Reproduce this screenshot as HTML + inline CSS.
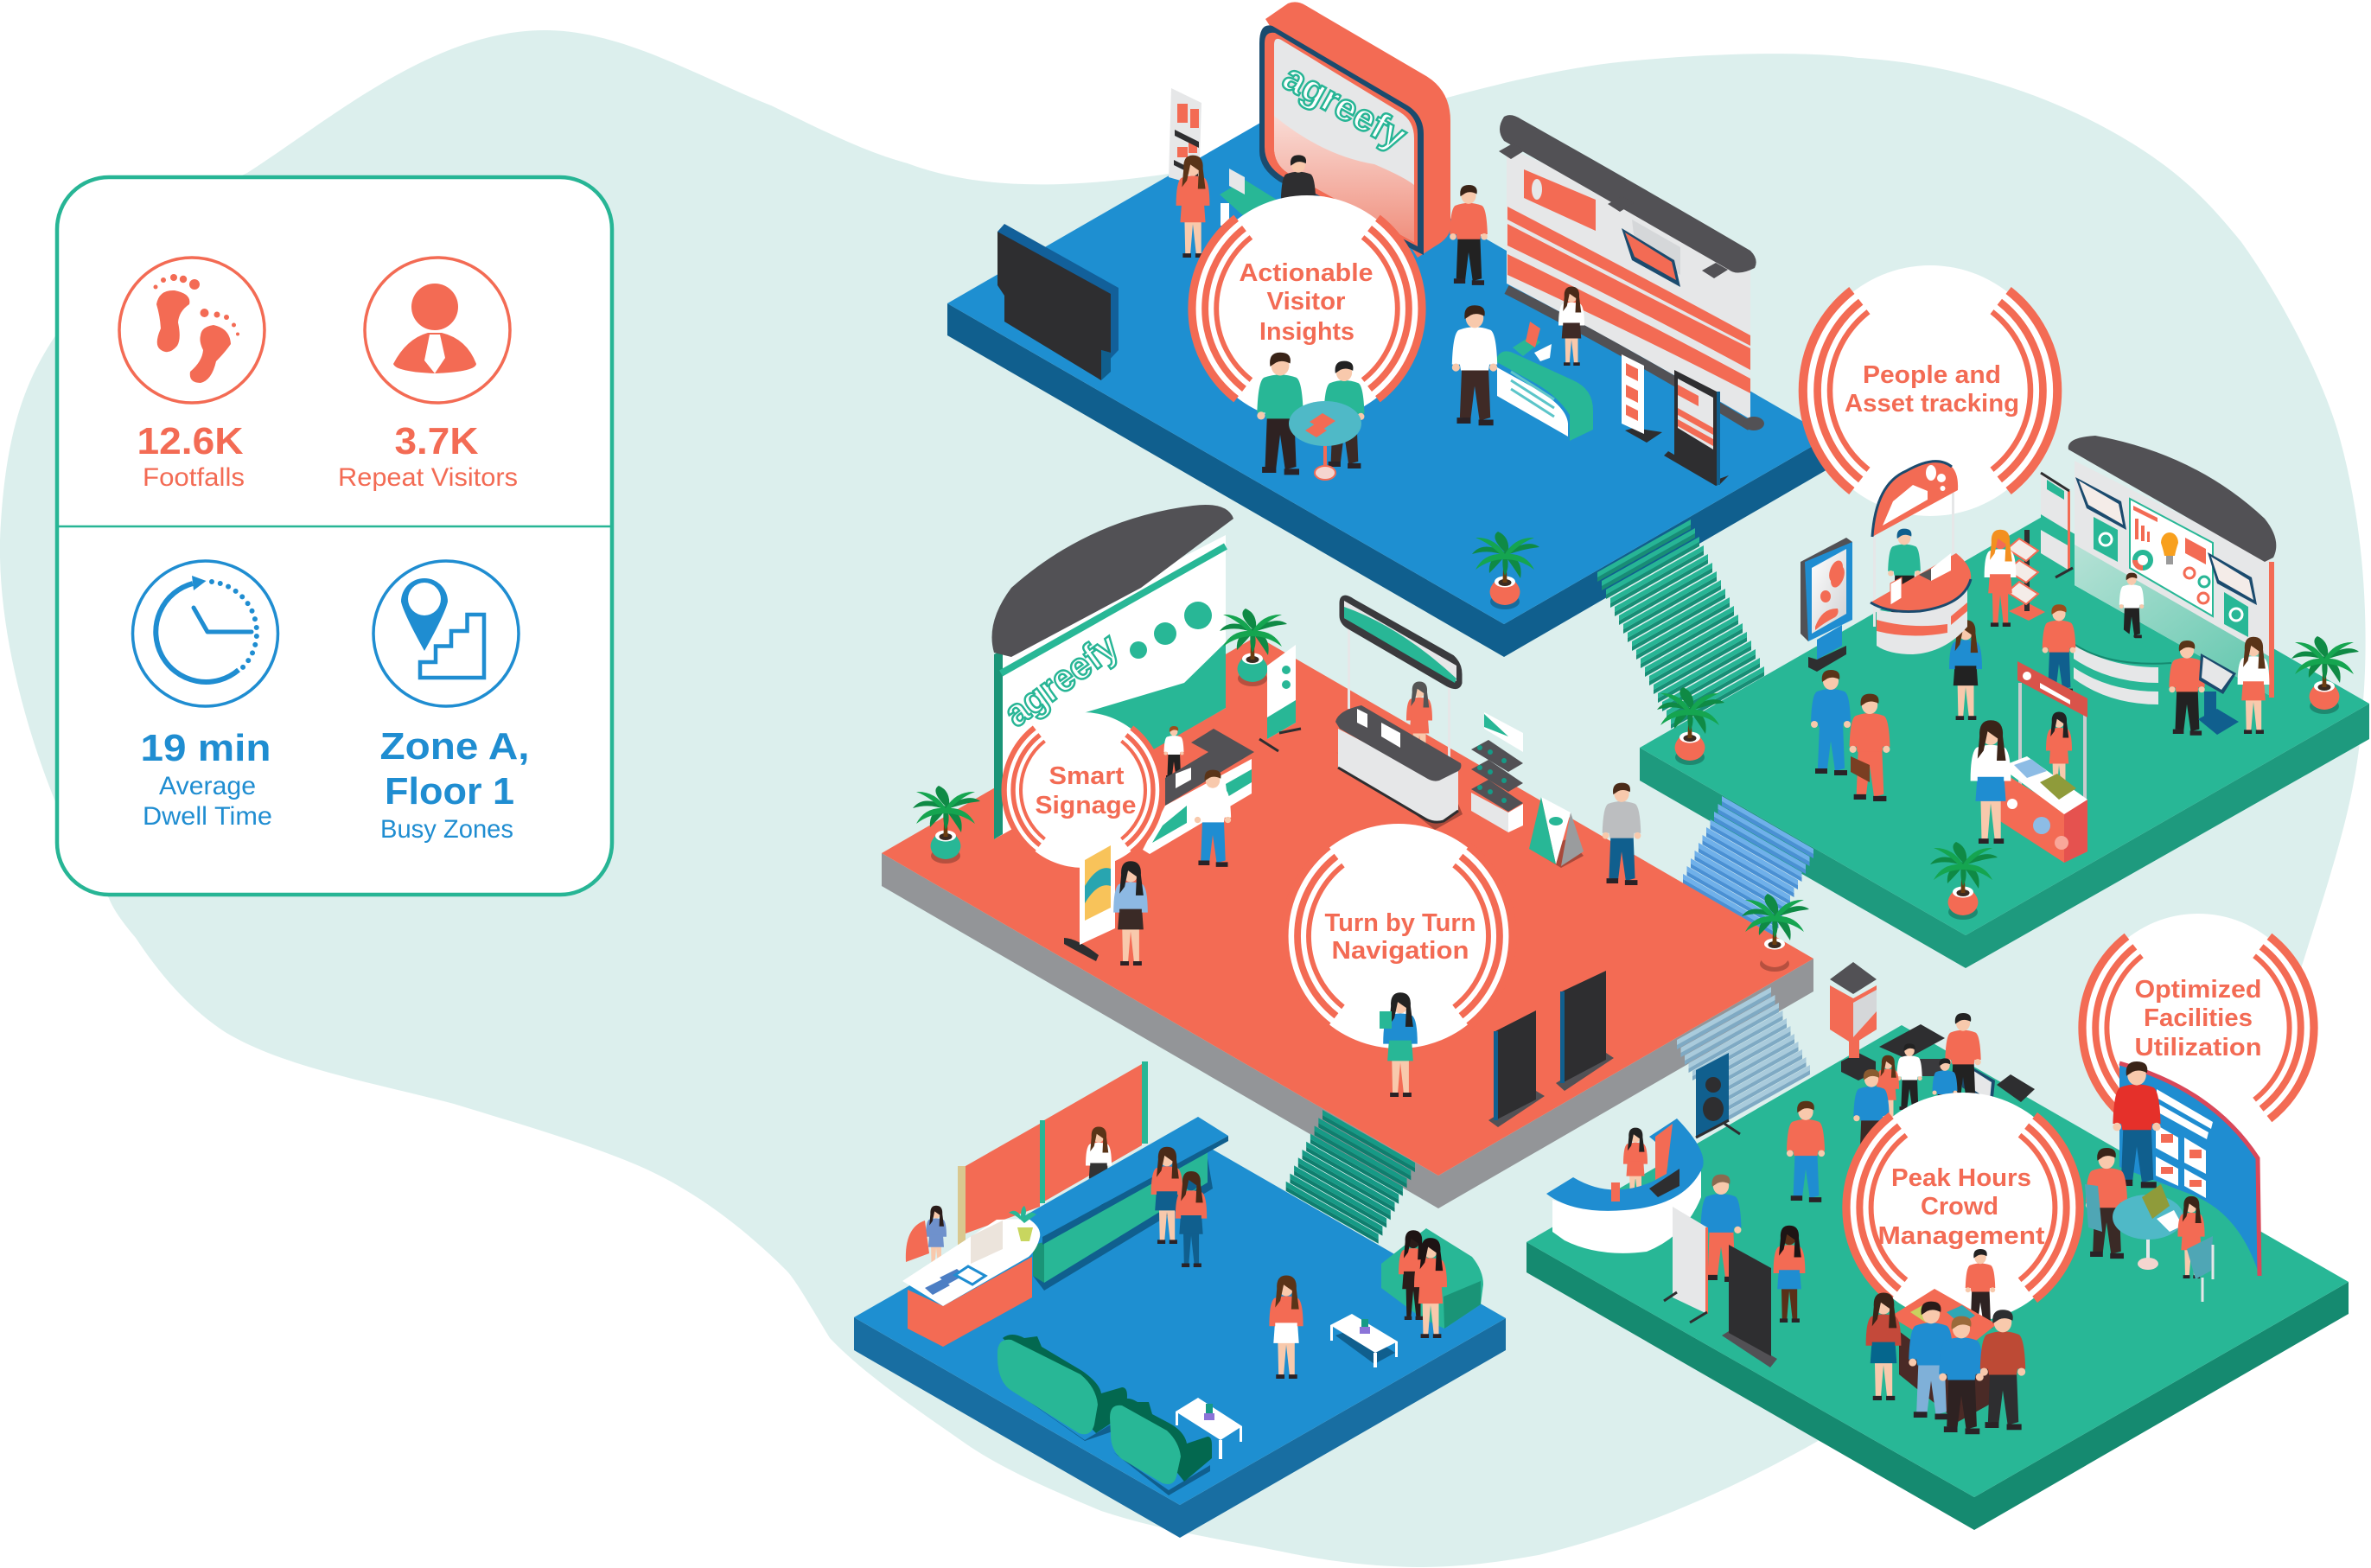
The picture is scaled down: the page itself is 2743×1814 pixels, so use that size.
<!DOCTYPE html>
<html><head><meta charset="utf-8"><title>Indoor analytics floors</title>
<style>
html,body{margin:0;padding:0;background:#fff}
svg{display:block}
.t{fill:var(--t,#f36b54)}.b{fill:var(--b,#222)}.h{fill:var(--h,#3a2418)}.s{fill:var(--s,#f8c9ac)}.p{fill:var(--p,#f36b54)}
text{font-family:"Liberation Sans",sans-serif}
.c{fill:#f36b54;font-weight:bold;text-anchor:middle;font-size:29px}
.big{font-weight:bold;font-size:44px;text-anchor:middle}
.sm{font-size:30px;text-anchor:middle}
</style></head><body>
<svg xmlns="http://www.w3.org/2000/svg" width="2743" height="1814" viewBox="0 0 2743 1814">
<defs>
<g id="m">
<path class="b" d="M-13,-58 L-15,-6 L-4,-5 L0,-38 L5,-3 L16,-6 L14,-58Z"/>
<path fill="#2a2226" d="M-18,-6 h14 v6 h-14z M4,-4 h15 v6 h-15z"/>
<path class="t" d="M-16,-95 Q0,-101 16,-95 Q22,-92 23,-60 L15,-60 L14,-54 L-14,-54 L-15,-60 L-23,-60 Q-22,-92 -16,-95Z"/>
<circle class="s" cx="-19" cy="-57" r="4"/><circle class="s" cx="19" cy="-57" r="4"/>
<ellipse class="s" cx="0" cy="-107" rx="9" ry="10"/>
<path class="h" d="M-10,-106 Q-12,-120 0,-120 Q12,-120 10,-109 Q2,-113 -4,-110 Z"/>
</g>
<g id="w">
<path class="s" d="M-10,-50 L-9,-4 L-3,-4 L0,-40 L4,-4 L10,-4 L10,-50Z"/>
<path fill="#2a2226" d="M-12,-5 h10 v5 h-10z M3,-5 h10 v5 h-10z"/>
<path class="b" d="M-13,-70 L-15,-42 L15,-42 L13,-70Z"/>
<path class="t" d="M-14,-95 Q0,-100 14,-95 Q20,-90 20,-62 L13,-62 L13,-66 L-13,-66 L-13,-62 L-20,-62 Q-20,-90 -14,-95Z"/>
<ellipse class="s" cx="0" cy="-107" rx="8.5" ry="9.5"/>
<path class="h" d="M-11,-106 Q-12,-122 0,-122 Q13,-122 12,-106 L15,-82 L6,-82 L7,-104 L-3,-111 L-7,-92 L-13,-84Z"/>
</g>
<g id="plant">
<ellipse cx="0" cy="-5" rx="17" ry="9" fill="#000" opacity=".25"/>
<path class="p" d="M-12,-28 Q-19,-20 -17,-13 Q-14,-2 0,-1 Q14,-2 17,-13 Q19,-20 12,-28Z"/>
<ellipse cx="0" cy="-28" rx="12" ry="6.5" fill="#fff"/><ellipse cx="0" cy="-27" rx="7.5" ry="4" fill="#3b2a20"/>
<path fill="#6b3d10" d="M-2.5,-27 L2.5,-27 L1.5,-62 L-1.5,-62Z"/>
<path fill="#0f8a45" d="M0,-62 Q-26,-76 -38,-60 Q-18,-66 0,-58Z M0,-62 Q28,-78 40,-68 Q20,-66 0,-58Z M0,-62 Q-18,-80 -8,-86 Q6,-80 4,-62Z M0,-60 Q-20,-58 -18,-38 Q-6,-50 0,-58Z M0,-60 Q22,-56 18,-32 Q8,-48 0,-58Z M-2,-60 Q-4,-45 0,-35 Q6,-45 2,-60Z"/>
<path fill="#15a550" d="M0,-60 Q-24,-62 -34,-42 Q-18,-54 0,-54Z M0,-60 Q24,-62 34,-42 Q18,-54 0,-54Z M0,-60 Q-12,-80 -34,-79 Q-16,-72 -2,-56Z M0,-60 Q12,-80 34,-79 Q16,-72 2,-56Z"/>
</g>
<g id="rings" fill="none" stroke="#f36b54">
<circle cx="0" cy="0" r="100" fill="#fff" stroke="none"/>
<path stroke-width="7" d="M-62.5,-80 A101.5,101.5 0 0 0 -62.5,80 M62.5,-80 A101.5,101.5 0 0 1 62.5,80"/>
<path stroke-width="6" d="M-55.4,-70.9 A90,90 0 0 0 -55.4,70.9 M55.4,-70.9 A90,90 0 0 1 55.4,70.9"/>
<path stroke-width="4.5" d="M-49.3,-63 A80,80 0 0 0 -49.3,63 M49.3,-63 A80,80 0 0 1 49.3,63"/>
</g>
<!-- stair 1 steps -->
<g id="a1"><polygon fill="#188d75" points="0,6 -108,67 -108,72 0,11"/><polygon fill="#27b595" points="0,0 -108,61 -108,67 0,6"/></g>
<g id="a2"><use href="#a1"/><use href="#a1" transform="translate(5,10)"/></g>
<g id="a4"><use href="#a2"/><use href="#a2" transform="translate(10,20)"/></g>
<g id="a8"><use href="#a4"/><use href="#a4" transform="translate(20,40)"/></g>
<!-- stair 2 -->
<g id="b1"><polygon fill="#4a90d4" points="0,6 106,67 106,72 0,11"/><polygon fill="#6fb0ea" points="0,0 106,61 106,67 0,6"/></g>
<g id="b2"><use href="#b1"/><use href="#b1" transform="translate(-4.5,9)"/></g>
<g id="b4"><use href="#b2"/><use href="#b2" transform="translate(-9,18)"/></g>
<!-- stair 3 -->
<g id="c1"><polygon fill="#7faac4" points="0,6 -109,67 -109,72 0,11"/><polygon fill="#a9cbdc" points="0,0 -109,61 -109,67 0,6"/></g>
<g id="c2"><use href="#c1"/><use href="#c1" transform="translate(4.5,9)"/></g>
<g id="c4"><use href="#c2"/><use href="#c2" transform="translate(9,18)"/></g>
<!-- stair 4 -->
<g id="d1"><polygon fill="#0f7e6e" points="0,6 107,67 107,72 0,11"/><polygon fill="#169a86" points="0,0 107,61 107,67 0,6"/></g>
<g id="d2"><use href="#d1"/><use href="#d1" transform="translate(-4.7,9.2)"/></g>
<g id="d4"><use href="#d2"/><use href="#d2" transform="translate(-9.4,18.4)"/></g>
<linearGradient id="pk" x1="0" y1="0" x2="0" y2="1"><stop offset="0" stop-color="#f9dcd6"/><stop offset="1" stop-color="#f08f7d"/></linearGradient>
<linearGradient id="gw" x1="0" y1="0" x2="1" y2="1"><stop offset="0" stop-color="#b6e2d6"/><stop offset="1" stop-color="#5cc5ab"/></linearGradient>
<linearGradient id="sc" x1="0" y1="0" x2="1" y2="1"><stop offset="0" stop-color="#fff"/><stop offset="1" stop-color="#cfd1d3"/></linearGradient>
</defs>

<rect width="2743" height="1814" fill="#fff"/>
<!-- blob -->
<path fill="#dcefed" d="M0,625 C5,500 30,440 63,390 C110,320 200,240 286,200 C380,140 500,35 630,35 C720,35 810,90 892,122 C960,155 1000,175 1050,189 C1120,215 1210,222 1352,201 C1450,185 1560,140 1678,112 C1760,90 1830,75 1892,70 C2000,60 2100,60 2150,67 C2240,72 2360,100 2467,166 C2530,205 2560,240 2593,280 C2650,360 2690,450 2704,497 C2740,620 2740,750 2733,822 C2728,920 2700,1000 2659,1130 C2620,1260 2500,1400 2400,1480 C2300,1560 2200,1620 2105,1666 C2010,1720 1900,1770 1780,1799 C1720,1810 1680,1813 1640,1813 C1580,1812 1530,1805 1483,1795 C1410,1780 1340,1770 1274,1748 C1220,1725 1160,1700 1117,1670 C1060,1630 1000,1590 960,1548 C940,1515 920,1480 910,1470 C850,1410 790,1370 735,1347 C670,1320 600,1300 525,1277 C430,1252 330,1235 262,1195 C215,1165 180,1120 157,1085 C140,1065 130,1050 126,1039 C100,1005 85,970 63,925 C25,830 -2,720 0,625 Z"/>

<!-- panel -->
<rect x="66" y="205" width="642" height="830" rx="60" fill="#fff" stroke="#27b595" stroke-width="4.5"/>
<line x1="66" y1="609" x2="708" y2="609" stroke="#27b595" stroke-width="2.5"/>
<g fill="none" stroke-width="3.5">
<circle cx="222" cy="382" r="84" stroke="#f36b54"/><circle cx="506" cy="382" r="84" stroke="#f36b54"/>
<circle cx="237.5" cy="733" r="84" stroke="#1f8dd1"/><circle cx="516" cy="733" r="84" stroke="#1f8dd1"/>
</g>
<g fill="#f36b54">
<path d="M181,352 Q184,335 202,336 Q222,340 219,352 Q207,360 206,373 Q210,392 205,400 Q195,412 185,404 Q178,398 186,380 Q185,365 181,352Z"/>
<circle cx="180" cy="332" r="2.5"/><circle cx="189" cy="324" r="3"/><circle cx="201" cy="321" r="4"/><circle cx="212" cy="323" r="4.2"/><circle cx="225" cy="329" r="6"/>
<path d="M232,388 Q233,378 247,376 Q266,380 267,398 Q260,408 250,418 Q245,440 232,443 Q218,443 220,430 Q234,418 235,405 Q230,395 232,388Z"/>
<circle cx="236.5" cy="362" r="5"/><circle cx="251" cy="364" r="3.5"/><circle cx="262" cy="367" r="3"/><circle cx="270.5" cy="376" r="2.5"/><circle cx="275" cy="386.5" r="2"/>
<circle cx="503" cy="355" r="27"/>
<path d="M455,421 Q470,392 495,385 L511,385 Q540,392 551,421 Q550,430 503,432 Q458,430 455,421Z"/>
</g>
<path fill="#fff" d="M497,387 L509,387 L515,414 L503,432 L491,417Z"/>
<g fill="none" stroke="#1f8dd1">
<path stroke-width="6" d="M276,775 A58,58 0 1 1 223,675"/>
<path stroke-width="6" stroke-linecap="round" stroke-dasharray="0 10" d="M245,673 A59,59 0 0 1 281,772"/>
<path stroke-width="5" stroke-linecap="round" stroke-linejoin="round" d="M224,703 L240,731 L291,731"/>
</g>
<path fill="#1f8dd1" d="M222,666 L238.5,672 L224,683Z"/>
<path fill="#1f8dd1" d="M464,696 A27,27 0 1 1 518,696 Q515,710 491,753 Q467,710 464,696 Z"/>
<circle cx="491" cy="693" r="19" fill="#fff"/>
<path fill="#fff" stroke="#1f8dd1" stroke-width="4.5" d="M486,766 L486,784 L560,784 L560,711 L540.5,711 L540.5,730 L522,730 L522,747.5 L504,747.5 L504,766Z"/>
<text x="220" y="525" class="big" fill="#f36b54" textLength="123" lengthAdjust="spacingAndGlyphs">12.6K</text>
<text x="224" y="562" class="sm" fill="#f36b54" textLength="118" lengthAdjust="spacingAndGlyphs">Footfalls</text>
<text x="505" y="525" class="big" fill="#f36b54" textLength="97" lengthAdjust="spacingAndGlyphs">3.7K</text>
<text x="495" y="562" class="sm" fill="#f36b54" textLength="208" lengthAdjust="spacingAndGlyphs">Repeat Visitors</text>
<text x="238" y="880" class="big" fill="#1f8dd1" textLength="151" lengthAdjust="spacingAndGlyphs">19 min</text>
<text x="240" y="919" class="sm" fill="#1f8dd1" textLength="112" lengthAdjust="spacingAndGlyphs">Average</text>
<text x="240" y="954" class="sm" fill="#1f8dd1" textLength="150" lengthAdjust="spacingAndGlyphs">Dwell Time</text>
<text x="526" y="878" class="big" fill="#1f8dd1" textLength="173" lengthAdjust="spacingAndGlyphs">Zone A,</text>
<text x="520" y="930" class="big" fill="#1f8dd1" textLength="150" lengthAdjust="spacingAndGlyphs">Floor 1</text>
<text x="517" y="969" class="sm" fill="#1f8dd1" textLength="154" lengthAdjust="spacingAndGlyphs">Busy Zones</text>

<!-- platforms + stairs -->
<polygon fill="#105f8e" points="1096,351 1096,388 1740,760 2116,542 2116,505 1740,722"/>
<polygon fill="#1e8fd1" points="1472,134 2116,505 1740,722 1096,351"/>
<g transform="translate(1956,601)"><use href="#a8"/><use href="#a8" transform="translate(40,80)"/><use href="#a2" transform="translate(80,160)"/></g>
<polygon fill="#1e9a7e" points="1897,865 1897,903 2274,1120 2741,855 2741,814 2274,1082"/>
<polygon fill="#28b796" points="2364,597 2741,814 2274,1082 1897,865"/>
<polygon fill="#186ea2" points="988,1524 988,1562 1365,1779 1742,1562 1742,1525 1365,1741"/>
<polygon fill="#1e8fd1" points="1365,1308 1742,1525 1365,1741 988,1524"/>
<polygon fill="#158a70" points="1766,1437 1766,1472 2284,1770 2717,1520 2717,1483 2284,1732"/>
<polygon fill="#28b796" points="2200,1186 2717,1483 2284,1732 1766,1437"/>
<g transform="translate(1992,921)"><use href="#b4"/><use href="#b4" transform="translate(-18,36)"/><use href="#b4" transform="translate(-36,72)"/></g>
<polygon fill="#939598" points="1020,987 1020,1025 1664,1398 2098,1147 2098,1109 1664,1360"/>
<polygon fill="#f36b54" points="1454,736 2098,1109 1664,1360 1020,987"/>
<g transform="translate(2049,1142)"><use href="#c4"/><use href="#c4" transform="translate(18,36)"/><use href="#c2" transform="translate(36,72)"/><use href="#c1" transform="translate(45,90)"/></g>
<g transform="translate(1530,1284)"><use href="#d4"/><use href="#d4" transform="translate(-18.8,36.8)"/><use href="#d2" transform="translate(-37.6,73.6)"/></g>

<!-- top booth -->
<polygon fill="#e6e7e8" points="1355,102 1390,119 1387,215 1352,205"/>
<path fill="#f36b54" d="M1362,120h12v22h-12z M1377,126h10v22h-10z M1362,170h12v12h-12z M1375,165h10v12h-10z"/>
<path fill="#2e2e30" d="M1359,150l28,14v7l-28,-14z M1358,185l28,14v6l-28,-14z"/>
<path fill="#f36b54" d="M1464,22 L1490,4 Q1500,0 1510,6 L1650,88 Q1678,105 1678,140 L1678,262 Q1678,275 1660,285 L1640,298 Z"/>
<path fill="#1b4b6e" d="M1457,50 Q1457,26 1472,30 L1625,120 Q1647,132 1647,155 L1647,295 L1480,210 Q1457,195 1457,175 Z"/>
<path fill="#f36b54" d="M1463,50 Q1463,36 1475,38 L1622,125 Q1640,135 1640,155 L1640,285 L1485,205 Q1463,192 1463,170Z"/>
<path fill="#e6e7e8" d="M1474,52 Q1474,42 1482,46 L1620,130 Q1636,140 1636,160 L1636,280 L1490,200 Q1474,190 1474,170Z"/>
<path fill="url(#pk)" d="M1474,134 Q1530,180 1590,190 Q1625,205 1636,214 L1636,280 L1490,200 Q1474,190 1474,170Z"/>
<text x="1555" y="138" transform="rotate(29 1555 125)" text-anchor="middle" font-size="44" font-weight="bold" fill="#fff" stroke="#27b595" stroke-width="2.5" textLength="155" lengthAdjust="spacingAndGlyphs">agreefy</text>
<path fill="#12609a" d="M1154,268 L1162,259 L1294,333 L1294,405 L1280,420 Z"/>
<path fill="#2e2e30" d="M1154,268 L1285,340 L1285,408 L1274,405 L1274,440 L1162,372 L1162,342 L1154,330 Z"/>
<path fill="#105f8e" d="M1274,405 L1285,408 L1285,430 L1274,440Z"/>
<polygon fill="#28b796" points="1411,225 1440,208 1485,236 1450,260"/>
<polygon fill="#e6e7e8" points="1422,195 1440,205 1440,225 1422,215"/>
<rect x="1412" y="235" width="10" height="26" fill="#fff"/>
<use href="#m" transform="translate(1502,285) scale(.88)" style="--t:#2e2e30;--b:#2e2e30;--h:#222"/>
<use href="#w" transform="translate(1380,298) scale(.97)" style="--t:#f36b54;--b:#f36b54;--h:#5a3418"/>
<!-- curved wall -->
<path fill="#e6e7e8" d="M1743,170 Q1880,230 2025,312 L2025,485 Q1880,400 1743,328 Z"/>
<path fill="none" stroke="#525155" stroke-width="11" d="M1743,335 Q1880,405 2025,493"/>
<ellipse cx="2029" cy="490" rx="12" ry="8" fill="#525155"/>
<path fill="#f36b54" d="M1744,239 Q1900,320 2025,388 L2025,400 Q1900,335 1744,254 Z M1744,259 Q1900,340 2025,403 L2025,428 Q1900,360 1744,284Z M1744,294 Q1900,370 2025,438 L2025,455 Q1900,390 1744,318Z"/>
<polygon fill="#f36b54" points="1763,196 1846,231 1846,267 1763,229"/>
<ellipse cx="1778" cy="219" rx="6" ry="12" fill="#e6e7e8"/>
<polygon fill="#d5d7d9" points="1888,254 1944,286 1944,318 1892,289"/>
<polygon fill="#1b4b6e" points="1876,264 1937,301 1944,332 1888,301"/>
<polygon fill="#f36b54" points="1880,269 1934,303 1939,324 1891,297"/>
<path fill="#525155" d="M1740,135 Q1748,130 1760,138 Q1892,212 2025,290 Q2035,300 2030,310 Q2010,320 2000,312 Q1870,237 1740,163 Q1730,150 1740,135 Z"/>
<path fill="#525155" d="M1734,175l16,-9l14,8l-16,10z M1860,236l16,-9l14,8l-16,10z M1969,313l16,-9l14,8l-16,10z"/>
<use href="#w" transform="translate(1818,423) scale(.75)" style="--t:#fff;--b:#3f2a26;--h:#4a2a18"/>
<path fill="#28b796" d="M1730,418 Q1735,402 1750,408 L1820,440 Q1843,450 1843,475 L1843,497 L1816,510 L1816,480 Q1800,455 1770,440 L1730,418Z"/>
<path fill="#fff" d="M1732,425 L1768,445 Q1812,468 1814,490 L1814,505 L1732,458Z"/>
<path fill="none" stroke="#5cc5c9" stroke-width="3" d="M1748,430l50,32 M1748,440l50,32 M1748,450l50,32"/>
<polygon fill="#28b796" points="1750,402 1772,388 1782,396 1762,412"/>
<polygon fill="#f36b54" points="1770,372 1782,380 1776,402 1765,395"/>
<polygon fill="#fff" points="1775,408 1795,398 1793,414 1782,418"/>
<use href="#m" transform="translate(1699,328) scale(.95)" style="--t:#f36b54;--b:#222;--h:#3a2418"/>
<use href="#m" transform="translate(1706,490) scale(1.14)" style="--t:#fff;--b:#3f2a26;--h:#3a2418"/>
<polygon fill="#2e2e30" points="1890,495 1923,500 1905,512 1880,498"/>
<polygon fill="#fff" points="1876,410 1902,423 1902,502 1876,490"/>
<path fill="#f36b54" d="M1881,420l14,7v14l-14,-7z M1881,445l14,7v14l-14,-7z M1881,468l14,7v12l-14,-7z"/>
<polygon fill="#2e2e30" points="1930,522 1986,555 2000,550 1990,560 1985,562 1925,527"/>
<polygon fill="#2e2e30" points="1937,428 1986,453 1986,557 1937,527"/>
<polygon fill="#e6e7e8" points="1941,438 1982,460 1982,520 1941,495"/>
<path fill="#f36b54" d="M1941,445l24,13v12l-24,-13z M1941,472l41,23v8l-41,-23z M1941,485l41,23v8l-41,-23z"/>
<path fill="#105f8e" d="M1986,453h4v108h-4z"/>
<use href="#plant" transform="translate(1741,701)"/>

<!-- upper-right wall -->
<polygon fill="#e6e7e8" points="2400,533 2630,650 2630,807 2400,677"/>
<polygon fill="url(#gw)" points="2400,630 2630,762 2630,807 2400,677"/>
<rect x="2625" y="650" width="6" height="157" fill="#f36b54"/>
<polygon fill="#fff" stroke="#28b796" stroke-width="2" points="2464,577 2560,628 2560,713 2464,657"/>
<path fill="#f36b54" d="M2470,600h4v24h-4z M2477,608h4v18h-4z M2484,615h3v12h-3z M2468,585l28,14v5l-28,-14z"/>
<path fill="#f8a01e" d="M2500,628a10,12 0 1 1 20,0 q-3,9 -4,15h-12q-1,-6 -4,-15z"/>
<rect x="2506" y="643" width="8" height="10" fill="#9a9a9a"/>
<circle cx="2479" cy="648" r="9" fill="none" stroke="#28b796" stroke-width="6"/>
<path fill="none" stroke="#f36b54" stroke-width="6" d="M2470,648a9,9 0 0 0 9,9"/>
<path fill="#f36b54" d="M2528,622l24,13v18l-24,-13z"/>
<circle cx="2533" cy="663" r="6" fill="#fff" stroke="#f36b54" stroke-width="3"/><circle cx="2550" cy="673" r="6" fill="#fff" stroke="#28b796" stroke-width="3"/><circle cx="2549" cy="692" r="6" fill="#fff" stroke="#f36b54" stroke-width="3"/>
<polygon fill="#1b4b6e" points="2401,552 2454,580 2460,613 2414,588"/>
<polygon fill="#f4ece8" points="2405,556 2451,583 2456,607 2416,584"/>
<polygon fill="#1b4b6e" points="2554,639 2605,668 2611,700 2565,675"/>
<polygon fill="#f4ece8" points="2558,644 2602,671 2607,694 2567,671"/>
<polygon fill="#28b796" points="2422,598 2450,613 2450,650 2422,635"/>
<polygon fill="#28b796" points="2573,685 2601,702 2601,737 2573,722"/>
<circle cx="2436" cy="624" r="7" fill="none" stroke="#fff" stroke-width="3"/><circle cx="2587" cy="711" r="7" fill="none" stroke="#fff" stroke-width="3"/>
<path fill="#525155" d="M2393,520 Q2390,506 2424,504 Q2540,525 2620,600 Q2640,625 2630,645 L2620,650 Z"/>
<polygon fill="#e6e7e8" points="2361,547 2394,568 2394,660 2361,640"/>
<polygon fill="#28b796" points="2361,595 2394,615 2394,632 2361,613"/>
<polygon fill="#28b796" points="2368,555 2388,568 2388,578 2368,566"/>
<rect x="2392" y="568" width="3" height="92" fill="#f36b54"/>
<path stroke="#2e2e30" stroke-width="3" d="M2361,547l33,21 M2378,668l20,-11"/>
<use href="#m" transform="translate(2466,737) scale(.62)" style="--t:#fff;--b:#222;--h:#4a2a18"/>
<path fill="#28b796" d="M2399,740 Q2440,770 2512,767 Q2470,740 2440,715Z"/>
<path fill="#e6e7e8" d="M2399,745 Q2440,772 2497,772 L2497,815 Q2440,815 2399,785Z"/>
<path fill="#28b796" d="M2399,762 Q2440,790 2497,790 L2497,800 Q2440,800 2399,772Z"/>
<path fill="none" stroke="#158a70" stroke-width="2" d="M2399,745 Q2440,772 2512,767"/>
<polygon fill="#f36b54" points="2324,707 2345,697 2366,708 2347,718"/>
<rect x="2342" y="613" width="6" height="94" fill="#2e2e30"/>
<path fill="#f4ece8" stroke="#f36b54" stroke-width="2" d="M2322,635l14,-12 l22,14 l-14,12z M2322,660l14,-12 l22,14 l-14,12z M2322,685l14,-12 l22,14 l-14,12z"/>
<use href="#w" transform="translate(2314,725) scale(.92)" style="--t:#fff;--b:#f36b54;--s:#f36b54;--h:#f39020"/>
<use href="#m" transform="translate(2382,800) scale(.84)" style="--t:#f36b54;--b:#105f8e;--h:#9b4d1c"/>
<use href="#w" transform="translate(2274,833) scale(.95)" style="--t:#1f8dd1;--b:#222;--h:#5a3418"/>
<use href="#m" transform="translate(2530,849) scale(.9)" style="--t:#f36b54;--b:#222;--h:#5a3418"/>
<rect x="2550" y="800" width="14" height="36" fill="#105f8e"/><polygon fill="#105f8e" points="2543,832 2565,820 2590,835 2565,850"/>
<polygon fill="#1b4b6e" points="2546,756 2587,779 2572,803 2544,787"/>
<polygon fill="#e6e7e8" points="2549,760 2583,780 2570,798 2547,784"/>
<use href="#w" transform="translate(2607,849) scale(.92)" style="--t:#fff;--b:#f36b54;--h:#5a3418"/>
<!-- kiosk board -->
<polygon fill="#2e2e30" points="2092,760 2102,763 2136,747 2136,757 2102,777 2092,772"/>
<polygon fill="#1f8dd1" points="2102,740 2131,723 2131,747 2102,763"/>
<polygon fill="#525155" points="2083,650 2136,622 2143,627 2092,742 2083,733"/>
<polygon fill="#1f8dd1" points="2088,650 2143,627 2143,717 2092,742"/>
<polygon fill="url(#sc)" points="2096,657 2136,635 2136,710 2096,733"/>
<path fill="#f36b54" d="M2118,672a7,13 20 1 1 14,-16a7,13 20 1 1 -14,16z M2106,690a6,7 0 1 1 12,0a6,7 0 1 1 -12,0z M2100,725 q8,-22 26,-21 q2,6 -3,10 q-12,6 -23,15z"/>

<!-- blue lower stuff -->
<polygon fill="#f36b54" points="1117,1349 1203,1300 1203,1396 1117,1427"/>
<polygon fill="#f36b54" points="1208,1296 1321,1231 1321,1325 1208,1390"/>
<rect x="1108" y="1349" width="9" height="92" fill="#d9c88f"/><rect x="1203" y="1296" width="6" height="96" fill="#28b796"/><rect x="1321" y="1228" width="7" height="95" fill="#28b796"/>
<use href="#w" transform="translate(1271,1395) scale(.75)" style="--t:#fff;--b:#333;--h:#5a3418"/>
<polygon fill="#105f8e" points="1397,1340 1403,1375 1208,1493 1195,1476"/>
<polygon fill="#1a9477" points="1208,1437 1208,1484 1195,1476 1195,1440"/>
<polygon fill="#28b796" points="1397,1333 1397,1368 1208,1484 1208,1437"/>
<polygon fill="#1e8fd1" points="1386,1292 1421,1314 1206,1431 1174,1413"/>
<polygon fill="#105f8e" points="1421,1314 1421,1320 1206,1440 1206,1431"/>
<use href="#w" transform="translate(1350,1439) scale(.92)" style="--t:#f36b54;--b:#105f8e;--h:#4a2a18"/>
<use href="#w" transform="translate(1378,1466) scale(.91)" style="--t:#f36b54;--b:#105f8e;--s:#105f8e;--h:#4a2a18"/>
<use href="#w" transform="translate(1083,1468) scale(.6)" style="--t:#6f91cc;--b:#6f91cc;--h:#2a1c1a"/>
<path fill="#f36b54" d="M1048,1460 Q1046,1420 1070,1412 L1075,1450Z"/>
<polygon fill="#f36b54" points="1050,1492 1091,1511 1091,1558 1050,1537"/>
<polygon fill="#f36b54" points="1091,1511 1194,1454 1194,1501 1091,1558"/>
<path fill="#fff" d="M1044,1482 L1153,1411 L1190,1410 Q1205,1420 1203,1431 Q1200,1445 1190,1454 L1091,1511Z"/>
<polygon fill="#ece4dc" points="1123,1430 1160,1412 1160,1445 1123,1462"/>
<path fill="#28b796" d="M1185,1415 q-10,-10 -18,-12 q8,-6 14,4 q0,-10 4,-12 q4,6 0,14 q6,-10 14,-4 q-6,4 -14,10z"/>
<path fill="#c8d65f" d="M1177,1420h18l-4,16h-10z"/>
<path fill="#4c7ec4" d="M1070,1490l20,-10 l9,7 l-20,11z M1087,1478l20,-10 l9,7 l-20,11z"/>
<polygon fill="#fff" stroke="#1f8dd1" stroke-width="3" points="1105,1475 1120,1465 1140,1476 1125,1486"/>
<!-- sofas -->
<path fill="#105f8e" d="M1160,1600 L1255,1666 L1290,1645 L1290,1655 L1255,1667Z"/>
<path fill="#03684f" d="M1160,1548 Q1170,1540 1185,1548 L1200,1546 L1205,1558 L1252,1586 Q1272,1600 1274,1612 L1298,1605 Q1304,1605 1304,1615 L1303,1635 L1268,1658Z"/>
<path fill="#28b796" d="M1154,1565 Q1154,1548 1170,1550 L1250,1590 Q1268,1605 1270,1625 L1266,1648 Q1262,1663 1248,1658 L1172,1610 Q1154,1600 1154,1570Z"/>
<path fill="#105f8e" d="M1288,1680 L1352,1724 L1400,1695 L1400,1702 L1352,1730Z"/>
<path fill="#03684f" d="M1296,1620 Q1305,1615 1316,1622 L1329,1622 L1333,1636 L1350,1645 Q1370,1655 1373,1670 L1397,1662 Q1402,1662 1402,1672 L1402,1687 L1370,1714Z"/>
<path fill="#28b796" d="M1284,1640 Q1284,1624 1298,1626 L1350,1655 Q1364,1668 1366,1685 L1361,1708 Q1358,1720 1345,1716 L1298,1688 Q1285,1678 1285,1660Z"/>
<!-- tables -->
<polygon fill="#105f8e" points="1545,1545 1590,1578 1614,1565 1570,1536"/>
<g fill="#fff"><polygon points="1360,1633 1386,1617 1437,1650 1412,1666"/><rect x="1360" y="1633" width="3" height="16"/><rect x="1410" y="1666" width="4" height="22"/><rect x="1434" y="1650" width="3" height="18"/>
<polygon points="1539,1533 1564,1520 1617,1552 1591,1565"/><rect x="1539" y="1533" width="3" height="18"/><rect x="1589" y="1565" width="4" height="17"/><rect x="1614" y="1552" width="3" height="18"/></g>
<path fill="#8b74d8" d="M1393,1635h12v8h-12z M1573,1535h12v8h-12z"/><path fill="#169a86" d="M1395,1624h8v11h-8z M1575,1526h8v9h-8z"/>
<!-- right sofa -->
<path fill="#28b796" d="M1650,1421 L1703,1454 Q1716,1470 1716,1486 L1713,1509 L1671,1537 L1645,1525 L1598,1490 L1598,1462Z"/>
<path fill="#1a9477" d="M1670,1500 L1713,1482 L1713,1509 L1671,1537Z"/>
<use href="#w" transform="translate(1635,1527) scale(.85)" style="--t:#f36b54;--b:#2a1c1a;--s:#2a1c1a;--h:#1e1414"/>
<use href="#w" transform="translate(1655,1548) scale(.95)" style="--t:#f36b54;--b:#f36b54;--h:#1e1414"/>
<use href="#w" transform="translate(1488,1595) scale(.98)" style="--t:#f36b54;--b:#fff;--h:#5a3418"/>

<!-- red platform objects -->
<polygon fill="#fff" points="1150,757 1418,619 1418,819 1150,971"/>
<polygon fill="#28b796" points="1253,825 1370,790 1418,743 1418,819 1190,950 1190,860"/>
<polygon fill="#1a9477" points="1150,757 1160,752 1160,965 1150,971"/>
<line x1="1158" y1="779" x2="1418" y2="632" stroke="#28b796" stroke-width="8"/>
<circle cx="1317" cy="752" r="10" fill="#28b796"/><circle cx="1348" cy="733" r="13" fill="#28b796"/><circle cx="1386" cy="712" r="16" fill="#28b796"/>
<text x="1231" y="800" transform="rotate(-36 1231 791)" text-anchor="middle" font-size="44" font-weight="bold" fill="#fff" stroke="#27b595" stroke-width="2.5" textLength="150" lengthAdjust="spacingAndGlyphs">agreefy</text>
<path fill="#525155" d="M1150,755 Q1140,720 1170,680 Q1260,600 1380,585 Q1420,580 1427,600 L1320,680 L1170,760Z"/>
<use href="#plant" transform="translate(1094,995)" style="--p:#28b796"/>
<use href="#plant" transform="translate(1449,790)" style="--p:#28b796"/>
<polygon fill="#fff" points="1466,770 1499,746 1499,836 1466,855"/>
<polygon fill="#28b796" points="1466,830 1499,810 1499,836 1466,855"/>
<circle cx="1488" cy="775" r="5" fill="#28b796"/><circle cx="1488" cy="792" r="5" fill="#28b796"/>
<path stroke="#2e2e30" stroke-width="3" d="M1457,855l22,14 M1480,848l25,-5"/>
<!-- left desk -->
<use href="#m" transform="translate(1358,900) scale(.5)" style="--t:#fff;--b:#222;--h:#9b4d1c"/>
<polygon fill="#fff" points="1448,878 1448,918 1330,988 1322,983 1348,932"/>
<polygon fill="#28b796" points="1418,907 1448,890 1448,905 1420,922"/>
<polygon fill="#28b796" points="1373,932 1373,952 1333,975 1345,955"/>
<polygon fill="#525155" points="1378,859 1404,843 1451,870 1348,932 1348,900 1398,870"/>
<polygon fill="#fff" points="1360,895 1378,888 1378,902 1360,912"/>
<use href="#m" transform="translate(1403,1001) scale(.92)" style="--t:#fff;--b:#1f8dd1;--h:#5a3418"/>
<!-- kiosk desk -->
<rect x="1559" y="720" width="3" height="100" fill="#e6e7e8"/><rect x="1675" y="780" width="3" height="110" fill="#e6e7e8"/>
<use href="#w" transform="translate(1642,880) scale(.75)" style="--t:#f36b54;--b:#f36b54;--h:#555"/>
<path fill="#a8493a" d="M1546,870 L1660,960 L1692,942 L1687,930 L1660,945Z"/>
<polygon fill="#e6e7e8" points="1548,843 1548,888 1650,948 1665,952 1687,937 1687,892 1660,902"/>
<path fill="none" stroke="#2e2e30" stroke-width="3" d="M1548,888 L1650,948 Q1660,953 1670,950 L1687,938"/>
<path fill="#525155" d="M1545,835 Q1548,822 1575,816 L1690,883 Q1692,890 1685,893 L1665,903 Q1658,905 1650,900 L1550,843Z"/>
<polygon fill="#fff" points="1598,836 1620,848 1620,865 1598,852"/><polygon fill="#fff" points="1570,820 1582,826 1582,842 1570,836"/>
<path fill="#3a3a3d" stroke="#3a3a3d" stroke-width="5" d="M1552,698 Q1552,686 1565,695 L1680,760 Q1689,768 1689,780 L1689,790 Q1687,798 1675,792 L1560,725 Q1552,720 1552,712Z"/>
<path fill="#e6e7e8" d="M1555,695 L1685,770 L1685,788 L1555,715Z"/>
<path fill="#28b796" d="M1555,702 L1555,715 L1683,790 L1685,785 Q1620,725 1555,702Z"/>
<!-- shelves -->
<polygon fill="#e6e7e8" points="1702,917 1745,940 1745,963 1702,938"/>
<polygon fill="#fff" points="1745,940 1762,930 1762,955 1745,963"/>
<polygon fill="#525155" points="1702,867 1722,856 1762,883 1745,893"/>
<polygon fill="#525155" points="1702,890 1722,879 1762,906 1745,916"/>
<polygon fill="#525155" points="1702,913 1722,902 1762,929 1745,939"/>
<g fill="#169a86"><circle cx="1712" cy="865" r="3"/><circle cx="1724" cy="870" r="3"/><circle cx="1740" cy="880" r="3"/><circle cx="1712" cy="888" r="3"/><circle cx="1724" cy="893" r="3"/><circle cx="1740" cy="903" r="3"/><circle cx="1712" cy="911" r="3"/><circle cx="1724" cy="916" r="3"/><circle cx="1740" cy="926" r="3"/></g>
<polygon fill="#fff" points="1717,824 1762,848 1762,870 1717,843"/><polygon fill="#28b796" points="1717,826 1745,852 1717,841"/>
<!-- A-board -->
<polygon fill="#a8493a" points="1775,985 1806,1004 1832,990 1815,970"/>
<polygon fill="#9a9c9e" points="1817,940 1832,985 1806,1002"/>
<polygon fill="#fff" points="1783,922 1817,940 1800,1000"/>
<polygon fill="#28b796" points="1783,922 1800,1000 1769,982"/>
<ellipse cx="1800" cy="950" rx="8" ry="5" fill="#28b796"/>
<use href="#m" transform="translate(1876,1022) scale(.97)" style="--t:#bcbec0;--b:#105f8e;--h:#4a2a18"/>
<polygon fill="#525155" points="1722,1296 1777,1262 1787,1268 1733,1304"/>
<polygon fill="#2e2e30" points="1730,1193 1777,1169 1777,1272 1730,1296"/><rect x="1728" y="1193" width="5" height="103" fill="#105f8e"/>
<polygon fill="#525155" points="1800,1253 1858,1218 1867,1224 1810,1262"/>
<polygon fill="#2e2e30" points="1807,1147 1858,1123 1858,1226 1807,1253"/><rect x="1805" y="1147" width="5" height="106" fill="#105f8e"/>
<use href="#plant" transform="translate(2053,1120)" style="--p:#f36b54"/>

<!-- lower green objects -->
<polygon fill="#2e2e30" points="2130,1228 2150,1218 2170,1228 2170,1240 2150,1250 2130,1240"/>
<rect x="2139" y="1200" width="12" height="24" fill="#f36b54"/>
<polygon fill="#f36b54" points="2117,1140 2144,1155 2171,1140 2171,1191 2144,1208 2117,1191"/>
<polygon fill="#d5d7d9" points="2144,1160 2171,1145 2171,1170 2144,1200"/>
<polygon fill="#525155" points="2117,1133 2144,1113 2171,1133 2144,1150"/>
<polygon fill="#2e2e30" points="2174,1211 2222,1185 2250,1201 2206,1225"/>
<rect x="2207" y="1225" width="45" height="20" fill="#3a3a3d"/>
<polygon fill="#2e2e30" points="2310,1255 2326,1243 2354,1260 2338,1275"/>
<polygon fill="#1b4b6e" points="2270,1228 2308,1250 2305,1280 2270,1258"/>
<polygon fill="#e6e7e8" points="2274,1233 2304,1252 2302,1273 2274,1255"/>
<use href="#m" transform="translate(2271,1280) scale(.9)" style="--t:#f36b54;--b:#222;--h:#222"/>
<use href="#m" transform="translate(2209,1284) scale(.64)" style="--t:#fff;--b:#222;--h:#222"/>
<use href="#m" transform="translate(2250,1300) scale(.63)" style="--t:#1f8dd1;--b:#222;--h:#222"/>
<use href="#w" transform="translate(2184,1300) scale(.65)" style="--t:#f36b54;--b:#f36b54;--h:#5a3418"/>
<use href="#m" transform="translate(2165,1345) scale(.9)" style="--t:#1f8dd1;--b:#3a2a26;--h:#8a5a30"/>
<polygon fill="#105f8e" points="1962,1238 2000,1218 2000,1296 1962,1316"/>
<circle cx="1982" cy="1255" r="9" fill="#2e2e30"/><ellipse cx="1982" cy="1283" rx="12" ry="14" fill="#2e2e30"/>
<path stroke="#2e2e30" stroke-width="3" d="M1962,1316l38,-20 M1995,1300l18,12"/>
<use href="#w" transform="translate(1892,1390) scale(.7)" style="--t:#f36b54;--b:#f36b54;--h:#222"/>
<path fill="#fff" d="M1796,1388 Q1860,1410 1968,1355 L1968,1385 Q1950,1430 1905,1448 Q1850,1455 1810,1435 L1796,1425Z"/>
<path fill="#1f8dd1" d="M1789,1381 L1820,1362 Q1870,1392 1925,1360 Q1940,1340 1908,1315 L1940,1294 Q1975,1330 1970,1350 Q1950,1395 1880,1400 Q1820,1405 1789,1381 Z"/>
<polygon fill="#f36b54" points="1915,1315 1935,1300 1928,1358 1915,1365"/>
<polygon fill="#2e2e30" points="1908,1375 1943,1352 1943,1372 1918,1385"/>
<rect x="1864" y="1368" width="10" height="22" fill="#f36b54"/>
<use href="#m" transform="translate(1991,1481) scale(1.02)" style="--t:#1f8dd1;--b:#f36b54;--h:#8a6a50"/>
<use href="#m" transform="translate(2089,1389) scale(.96)" style="--t:#f36b54;--b:#1f8dd1;--h:#5a3418"/>
<polygon fill="#e6e7e8" points="1935,1396 1975,1420 1975,1520 1935,1501"/><rect x="1973" y="1420" width="3" height="100" fill="#f36b54"/>
<path stroke="#2e2e30" stroke-width="3" d="M1925,1505l15,-10 M1955,1530l20,-12"/>
<polygon fill="#525155" points="1992,1545 2000,1540 2056,1572 2048,1582"/>
<polygon fill="#2e2e30" points="2000,1440 2049,1467 2049,1569 2000,1542"/>
<use href="#w" transform="translate(2070,1530) scale(.92)" style="--t:#f36b54;--b:#1f8dd1;--s:#5a3018;--h:#1e1414"/>
<use href="#plant" transform="translate(2689,822)"/>
<use href="#plant" transform="translate(1955,881)"/>
<use href="#plant" transform="translate(2271,1060)"/>

<!-- callouts -->
<use href="#rings" transform="translate(1512,357) scale(1.31)"/>
<use href="#rings" transform="translate(2233,452) scale(1.45)"/>
<use href="#rings" transform="translate(1253,914) scale(.9)"/>
<use href="#rings" transform="translate(1618,1083) scale(1.3)"/>
<use href="#rings" transform="translate(2271,1397) scale(1.33)"/>
<use href="#rings" transform="translate(2543,1189) scale(1.32)"/>
<text class="c" x="1511" y="325" textLength="155" lengthAdjust="spacingAndGlyphs">Actionable</text>
<text class="c" x="1511" y="358" textLength="91" lengthAdjust="spacingAndGlyphs">Visitor</text>
<text class="c" x="1512" y="393" textLength="110" lengthAdjust="spacingAndGlyphs">Insights</text>
<text class="c" x="2235" y="443" textLength="160" lengthAdjust="spacingAndGlyphs">People and</text>
<text class="c" x="2235" y="476" textLength="202" lengthAdjust="spacingAndGlyphs">Asset tracking</text>
<text class="c" x="1257" y="907" textLength="87" lengthAdjust="spacingAndGlyphs">Smart</text>
<text class="c" x="1256" y="941" textLength="117" lengthAdjust="spacingAndGlyphs">Signage</text>
<text class="c" x="1620" y="1077" textLength="175" lengthAdjust="spacingAndGlyphs">Turn by Turn</text>
<text class="c" x="1620" y="1109" textLength="159" lengthAdjust="spacingAndGlyphs">Navigation</text>
<text class="c" x="2269" y="1372" textLength="162" lengthAdjust="spacingAndGlyphs">Peak Hours</text>
<text class="c" x="2267" y="1405" textLength="90" lengthAdjust="spacingAndGlyphs">Crowd</text>
<text class="c" x="2269" y="1439" textLength="193" lengthAdjust="spacingAndGlyphs">Management</text>
<text class="c" x="2543" y="1154" textLength="147" lengthAdjust="spacingAndGlyphs">Optimized</text>
<text class="c" x="2543" y="1187" textLength="126" lengthAdjust="spacingAndGlyphs">Facilities</text>
<text class="c" x="2543" y="1221" textLength="147" lengthAdjust="spacingAndGlyphs">Utilization</text>

<!-- foreground after callouts -->
<use href="#m" transform="translate(1481,547) scale(1.16)" style="--t:#28b796;--b:#2e2222;--h:#3a2418"/>
<use href="#m" transform="translate(1555,540) scale(1.02)" style="--t:#28b796;--b:#3a2a26;--h:#222"/>
<rect x="1531" y="505" width="4" height="40" fill="#f36b54"/>
<ellipse cx="1533" cy="547" rx="12" ry="8" fill="#f5d5cf" stroke="#f36b54" stroke-width="2"/>
<ellipse cx="1533" cy="490" rx="42" ry="26" fill="#4fb9c7"/>
<path fill="#f36b54" d="M1515,488l15,-10l15,9l-15,10z M1510,498l12,-8l13,8l-12,8z"/>

<!-- canopy desk -->
<rect x="2167" y="615" width="3" height="110" fill="#e6e7e8"/><rect x="2258" y="570" width="3" height="85" fill="#e6e7e8"/>
<use href="#m" transform="translate(2203,710) scale(.82)" style="--t:#28b796;--b:#222;--h:#105f8e"/>
<path fill="#e6e7e8" d="M2171,705 Q2230,720 2276,670 L2276,725 Q2250,755 2213,757 Q2185,757 2171,747Z"/>
<path fill="#f36b54" d="M2171,717 Q2210,728 2253,722 L2253,732 Q2210,740 2171,730 Z"/>
<polygon fill="#f36b54" points="2257,713 2276,697 2276,707 2257,723"/>
<path fill="#f36b54" d="M2164,697 L2263,640 Q2282,655 2280,670 Q2272,700 2221,707 Q2185,710 2164,697Z"/>
<path fill="none" stroke="#1b4b6e" stroke-width="3" d="M2164,697 Q2185,710 2221,707 Q2272,700 2280,670"/>
<polygon fill="#fff" points="2234,658 2257,640 2257,660 2234,672"/>
<polygon fill="#555" points="2220,665 2234,658 2234,672"/>
<polygon fill="#fff" stroke="#f36b54" points="2187,675 2200,668 2200,692 2187,700"/>
<path fill="#f36b54" d="M2166,621 Q2170,560 2205,545 Q2240,525 2258,540 Q2266,548 2265,567 Z"/>
<path fill="none" stroke="#1b4b6e" stroke-width="3" d="M2166,621 Q2170,560 2205,545 Q2240,525 2258,540"/>
<path fill="#fff" d="M2178,608 L2230,578 L2230,568 L2213,561 L2190,580Z"/>
<ellipse cx="2234" cy="547" rx="6" ry="9" fill="#fff"/><circle cx="2246" cy="553" r="5" fill="#fff"/><circle cx="2247.5" cy="565" r="3" fill="#fff"/>
<!-- upper right people -->
<use href="#m" transform="translate(2118,895) scale(1)" style="--t:#1f8dd1;--b:#1f8dd1;--h:#5a3418"/>
<use href="#m" transform="translate(2163,925) scale(1.02)" style="--t:#f36b54;--b:#f36b54;--h:#5a3418"/>
<polygon fill="#7a3e22" points="2141,875 2163,885 2163,905 2141,893"/>
<use href="#w" transform="translate(2382,915) scale(.75)" style="--t:#f36b54;--b:#f36b54;--h:#222"/>
<rect x="2335" y="790" width="4" height="120" fill="#c9cbcd"/><rect x="2410" y="820" width="4" height="110" fill="#c9cbcd"/>
<polygon fill="#d9534a" points="2334,765 2415,808 2415,830 2334,787"/>
<circle cx="2345" cy="782" r="5" fill="#fff"/><polygon fill="#fff" points="2360,790 2395,810 2395,815 2360,796"/>
<polygon fill="#f36b54" points="2314,892 2388,938 2415,925 2415,985 2388,998 2314,950"/>
<polygon fill="#e5524f" points="2388,938 2415,925 2415,985 2388,998"/>
<polygon fill="#fff" points="2314,887 2345,875 2415,925 2388,942"/>
<polygon fill="#8dbce5" points="2330,885 2350,878 2368,892 2345,900"/>
<polygon fill="#8f9b3a" points="2360,905 2380,895 2402,912 2382,925"/>
<circle cx="2328" cy="930" r="6" fill="#fff"/><circle cx="2362" cy="955" r="10" fill="#8dbce5"/><circle cx="2385" cy="975" r="8" fill="#f9a79a"/>
<use href="#w" transform="translate(2303,976) scale(1.17)" style="--t:#fff;--b:#1f8dd1;--h:#3a2418"/>
<!-- display stand in Smart -->
<path fill="#2e2e30" d="M1231,1085 Q1245,1085 1271,1105 L1268,1112 Q1245,1100 1231,1092Z"/>
<polygon fill="#fff" points="1249,987 1290,968 1290,1074 1249,1093"/>
<polygon fill="#f8c35a" points="1255,995 1285,978 1285,1050 1255,1065"/>
<path fill="#28a5b0" d="M1255,1025 Q1270,1000 1285,1005 L1285,1025 Q1270,1020 1255,1045Z"/>
<use href="#w" transform="translate(1308,1117) scale(.99)" style="--t:#8db9e3;--b:#3a2a26;--h:#222"/>
<!-- walker -->
<use href="#w" transform="translate(1620,1269) scale(.99)" style="--t:#1f8dd1;--b:#28b796;--h:#222"/>
<rect x="1596" y="1170" width="14" height="20" fill="#28b796"/>
<!-- Optimized booth -->
<path fill="#1f8dd1" d="M2452,1230 Q2560,1260 2612,1340 L2614,1476 Q2590,1400 2530,1380 L2452,1350Z"/>
<path fill="none" stroke="#d9485a" stroke-width="5" d="M2452,1230 Q2560,1260 2612,1340 L2614,1476"/>
<path fill="#fff" d="M2495,1260 L2560,1298 L2558,1306 L2495,1270Z M2495,1276 L2555,1310 L2553,1318 L2495,1286Z"/>
<g fill="#fff"><polygon points="2494,1301 2520,1316 2520,1342 2494,1328"/><polygon points="2527,1316 2552,1331 2552,1358 2527,1345"/><polygon points="2494,1338 2520,1352 2520,1372 2494,1360"/><polygon points="2527,1352 2552,1366 2552,1386 2527,1372"/></g>
<path fill="#f36b54" d="M2500,1312h14v10h-14z M2533,1330h14v10h-14z M2500,1350h14v8h-14z M2533,1365h14v8h-14z"/>
<use href="#m" transform="translate(2472,1372) scale(1.2)" style="--t:#e5302a;--b:#105f8e;--h:#3a2418"/>
<use href="#m" transform="translate(2437,1454) scale(1.05)" style="--t:#f36b54;--b:#3a2a26;--h:#3a2418"/>
<polygon fill="#4fa6b5" points="2412,1370 2427,1372 2432,1425 2416,1420"/>
<rect x="2483" y="1420" width="4" height="40" fill="#e6e7e8"/><ellipse cx="2485" cy="1462" rx="12" ry="7" fill="#f5d5cf"/>
<ellipse cx="2485" cy="1408" rx="41" ry="26" fill="#4fb9c7"/>
<polygon fill="#8f9b3a" points="2478,1385 2500,1370 2510,1395 2490,1410"/>
<polygon fill="#fff" points="2495,1410 2515,1400 2525,1418 2510,1425"/>
<use href="#w" transform="translate(2535,1479) scale(.78)" style="--t:#f36b54;--b:#f36b54;--h:#3a2418"/>
<polygon fill="#4fa6b5" points="2530,1445 2560,1430 2558,1470 2540,1480"/>
<path stroke="#e6e7e8" stroke-width="3" d="M2548,1478v28 M2560,1440v40"/>
<!-- Peak table -->
<use href="#m" transform="translate(2291,1535) scale(.75)" style="--t:#f36b54;--b:#2e2222;--h:#222"/>
<polygon fill="#4a2a26" points="2197,1540 2263,1590 2310,1560 2310,1620 2265,1645 2197,1590"/>
<polygon fill="#f36b54" points="2187,1523 2238,1491 2310,1532 2263,1569"/>
<polygon fill="#c9d15f" points="2210,1518 2228,1508 2245,1520 2228,1530"/>
<polygon fill="#2fa7b5" points="2252,1518 2270,1510 2285,1522 2268,1532"/>
<use href="#w" transform="translate(2179,1620) scale(1.02)" style="--t:#c4493a;--b:#05668d;--h:#3a2418"/>
<use href="#m" transform="translate(2234,1640) scale(1.12)" style="--t:#1f8dd1;--b:#7fb0d8;--h:#2a1c1a"/>
<use href="#m" transform="translate(2269,1657) scale(1.12)" style="--t:#1f8dd1;--b:#2e2222;--h:#9b6a3a"/>
<use href="#m" transform="translate(2317,1652) scale(1.14)" style="--t:#bd4a35;--b:#2e2e30;--h:#2e2e30"/>
</svg>
</body></html>
